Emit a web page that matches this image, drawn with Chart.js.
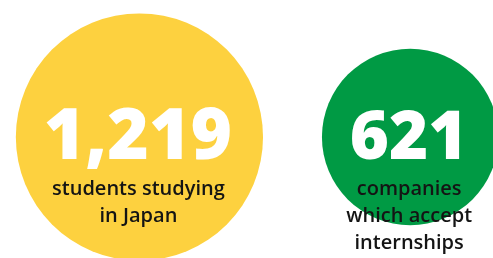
<!DOCTYPE html>
<html>
<head>
<meta charset="utf-8">
<script src="https://cdn.jsdelivr.net/npm/chart.js@4/dist/chart.umd.min.js"></script>
<style>
  html, body { margin: 0; padding: 0; background: #ffffff; }
  #wrap { position: relative; width: 493px; height: 258px; }
</style>
</head>
<body>
<div id="wrap"><canvas id="c" width="493" height="258"></canvas></div>
<script>
// ---- data ----
const categories = ["Students", "Companies"];
const values = [1219, 621];
const valueLabels = ["1,219", "621"];
const captions = [["students studying", "in Japan"], ["companies", "which accept", "internships"]];
const colors = ["#FDD13F", "#009A44"];

const radiusScale = 3.54; // pixels per sqrt(unit)

const points = values.map((v, i) => ({ x: i, y: 0, r: radiusScale * Math.sqrt(v) }));

const textPlugin = {
  id: 'bubbleText',
  afterDatasetsDraw(chart) {
    const ctx = chart.ctx;
    const meta = chart.getDatasetMeta(0);
    ctx.save();
    ctx.textAlign = 'center';
    ctx.textBaseline = 'alphabetic';
    meta.data.forEach((el, i) => {
      const cx = el.x, cy = el.y;
      ctx.fillStyle = '#ffffff';
      ctx.font = '800 ' + (i === 0 ? 71 : 67) + 'px "Open Sans"';
      ctx.fillText(valueLabels[i], cx - 1.5, cy + 21.5);
      ctx.fillStyle = '#141414';
      ctx.font = '600 20px "Open Sans"';
      captions[i].forEach((line, j) => {
        ctx.fillText(line, cx - 1, cy + 58 + j * 27);
      });
    });
    ctx.restore();
  }
};

new Chart(document.getElementById('c'), {
  type: 'bubble',
  data: {
    labels: categories,
    datasets: [{
      data: points,
      backgroundColor: colors,
      borderWidth: 0,
      hoverBorderWidth: 0,
      clip: false
    }]
  },
  options: {
    responsive: false,
    animation: false,
    events: [],
    layout: { autoPadding: false, padding: { top: 16, left: 0, right: 0, bottom: 0 } },
    plugins: { legend: { display: false }, tooltip: { enabled: false } },
    scales: {
      x: { type: 'linear', min: -0.515, max: 1.306, display: false },
      y: { type: 'linear', min: -1, max: 1, display: false }
    }
  },
  plugins: [textPlugin]
});
</script>
</body>
</html>
